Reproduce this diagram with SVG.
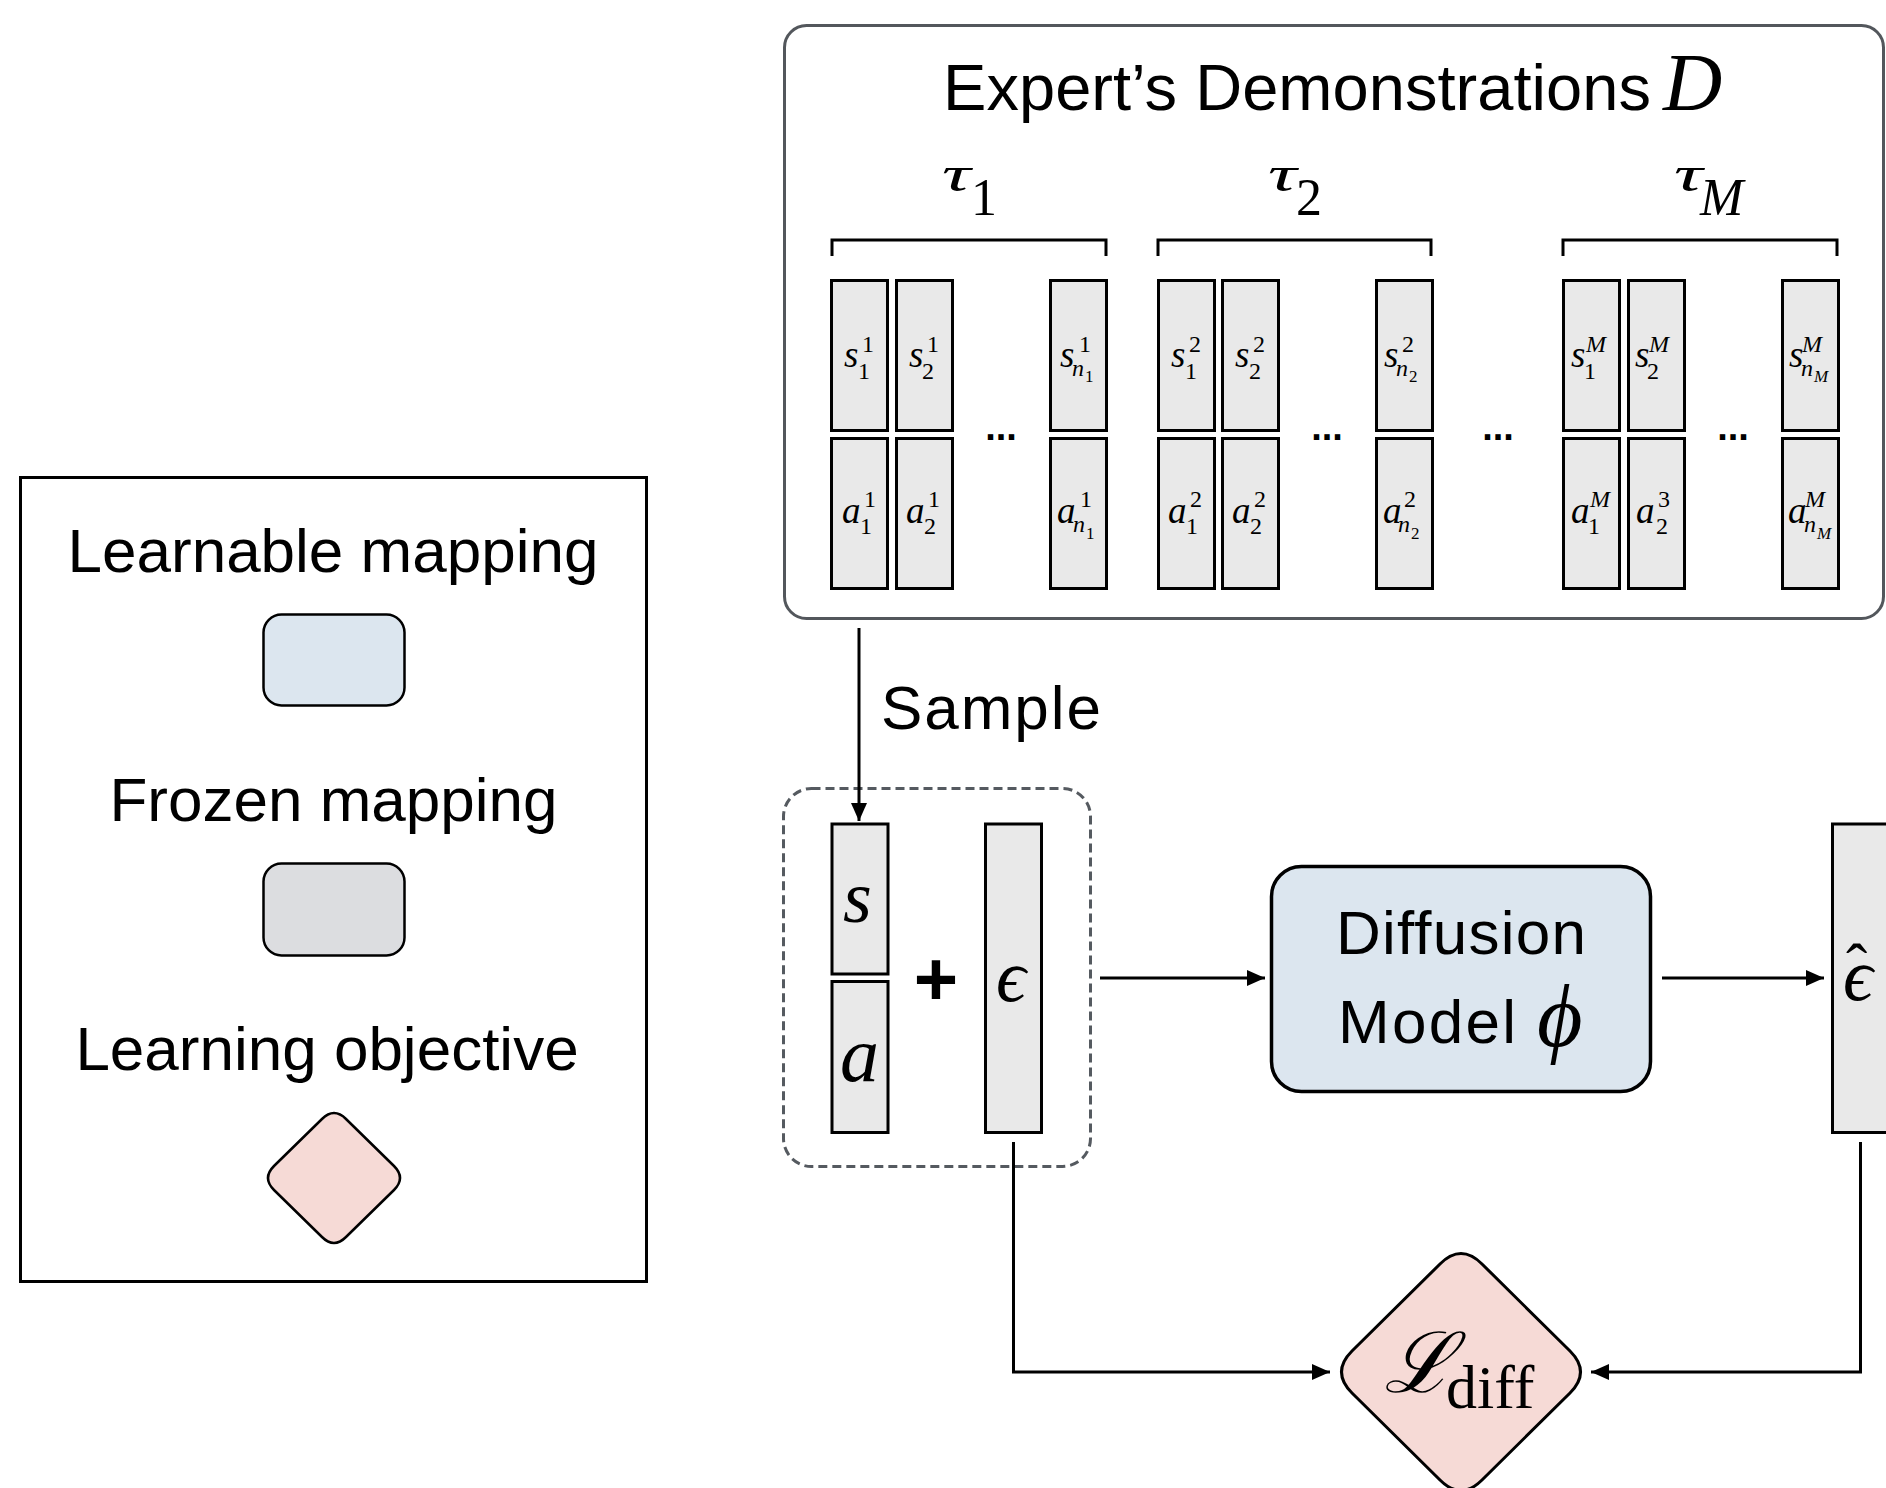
<svg xmlns="http://www.w3.org/2000/svg" width="1886" height="1488" viewBox="0 0 1886 1488">
<style>
.sans{font-family:'Liberation Sans',Arial,sans-serif;fill:#000}
.mi{font-family:'Liberation Serif','DejaVu Serif',serif;font-style:italic;fill:#000}
.mr{font-family:'Liberation Serif','DejaVu Serif',serif;fill:#000}
.b{font-size:37px}.p{font-size:24px}.q{font-size:17px}
.cell{fill:#e9e9e9;stroke:#000;stroke-width:3}
.conn{fill:none;stroke:#000;stroke-width:3}
.dots{font-family:'Liberation Sans',Arial,sans-serif;font-weight:bold;font-size:38px;text-anchor:middle}
</style>
<defs>
<marker id="arr" markerUnits="userSpaceOnUse" markerWidth="18" markerHeight="16" refX="18" refY="8" orient="auto">
<path d="M0,0 L18,8 L0,16 Z" fill="#000"/>
</marker>
</defs>
<rect width="1886" height="1488" fill="#fff"/>

<g id="legend">
<rect x="20.5" y="477.5" width="626" height="804" fill="#fff" stroke="#000" stroke-width="3"/>
<text class="sans" x="333" y="572" font-size="62" text-anchor="middle">Learnable mapping</text>
<rect x="263.5" y="614.5" width="141" height="91" rx="18" fill="#dce6ef" stroke="#000" stroke-width="2.5"/>
<text class="sans" x="333.5" y="821" font-size="62" text-anchor="middle">Frozen mapping</text>
<rect x="263.5" y="863.5" width="141" height="92" rx="18" fill="#dcdde0" stroke="#000" stroke-width="2.5"/>
<text class="sans" x="327" y="1070" font-size="62" text-anchor="middle">Learning objective</text>
<path d="M346,1119 L394,1166 Q406,1178 394,1190 L346,1237 Q334,1249 322,1237 L274,1190 Q262,1178 274,1166 L322,1119 Q334,1107 346,1119 Z" fill="#f6dad6" stroke="#000" stroke-width="2.5"/>
</g>

<g id="demonstrations">
<rect x="784.5" y="25.5" width="1099" height="593" rx="22" fill="#fff" stroke="#53575c" stroke-width="3"/>
<text class="sans" x="943" y="110" font-size="65" textLength="708" lengthAdjust="spacing">Expert’s Demonstrations</text>
<text class="mi" x="1663" y="110" font-size="82">D</text>
<text class="mi" font-size="50" transform="translate(942,191) scale(1.6,1)">τ</text>
<text class="mr" x="971" y="215" font-size="52">1</text>
<text class="mi" font-size="50" transform="translate(1268,191) scale(1.6,1)">τ</text>
<text class="mr" x="1296" y="215" font-size="52">2</text>
<text class="mi" font-size="50" transform="translate(1674,191) scale(1.6,1)">τ</text>
<text class="mi" x="1700" y="215" font-size="52">M</text>
<path class="conn" d="M832,256 V240 H1106 V256 M1158,256 V240 H1431 V256 M1563,256 V240 H1837 V256"/>
<text class="dots" x="1001" y="440">...</text>
<text class="dots" x="1327" y="440">...</text>
<text class="dots" x="1498" y="440">...</text>
<text class="dots" x="1733" y="440">...</text>
</g>

<g id="cell-s11"><rect class="cell" x="831.5" y="280.5" width="56" height="150"/>
<text><tspan class="mi b" x="844" y="367">s</tspan><tspan class="mr p" x="862" y="352">1</tspan><tspan class="mr p" x="858" y="379">1</tspan></text></g>
<g id="cell-s21"><rect class="cell" x="896.5" y="280.5" width="56" height="150"/>
<text><tspan class="mi b" x="909" y="367">s</tspan><tspan class="mr p" x="927" y="352">1</tspan><tspan class="mr p" x="922" y="379">2</tspan></text></g>
<g id="cell-sn1"><rect class="cell" x="1050.5" y="280.5" width="56" height="150"/>
<text><tspan class="mi b" x="1060" y="367">s</tspan><tspan class="mr p" x="1079" y="352">1</tspan><tspan class="mi p" x="1072" y="376">n</tspan><tspan class="mr q" x="1085" y="382">1</tspan></text></g>
<g id="cell-s12"><rect class="cell" x="1158.5" y="280.5" width="56" height="150"/>
<text><tspan class="mi b" x="1171" y="367">s</tspan><tspan class="mr p" x="1189" y="352">2</tspan><tspan class="mr p" x="1185" y="379">1</tspan></text></g>
<g id="cell-s22"><rect class="cell" x="1222.5" y="280.5" width="56" height="150"/>
<text><tspan class="mi b" x="1235" y="367">s</tspan><tspan class="mr p" x="1253" y="352">2</tspan><tspan class="mr p" x="1249" y="379">2</tspan></text></g>
<g id="cell-sn2"><rect class="cell" x="1376.5" y="280.5" width="56" height="150"/>
<text><tspan class="mi b" x="1384" y="367">s</tspan><tspan class="mr p" x="1402" y="352">2</tspan><tspan class="mi p" x="1396" y="376">n</tspan><tspan class="mr q" x="1409" y="382">2</tspan></text></g>
<g id="cell-s1M"><rect class="cell" x="1563.5" y="280.5" width="56" height="150"/>
<text><tspan class="mi b" x="1571" y="367">s</tspan><tspan class="mi p" x="1586" y="352">M</tspan><tspan class="mr p" x="1584" y="379">1</tspan></text></g>
<g id="cell-s2M"><rect class="cell" x="1628.5" y="280.5" width="56" height="150"/>
<text><tspan class="mi b" x="1635" y="367">s</tspan><tspan class="mi p" x="1649" y="352">M</tspan><tspan class="mr p" x="1647" y="379">2</tspan></text></g>
<g id="cell-snM"><rect class="cell" x="1782.5" y="280.5" width="56" height="150"/>
<text><tspan class="mi b" x="1789" y="367">s</tspan><tspan class="mi p" x="1802" y="352">M</tspan><tspan class="mi p" x="1801" y="376">n</tspan><tspan class="mi q" x="1814" y="382">M</tspan></text></g>

<g id="cell-a11"><rect class="cell" x="831.5" y="438.5" width="56" height="150"/>
<text><tspan class="mi b" x="842" y="523">a</tspan><tspan class="mr p" x="864" y="507">1</tspan><tspan class="mr p" x="860" y="534">1</tspan></text></g>
<g id="cell-a21"><rect class="cell" x="896.5" y="438.5" width="56" height="150"/>
<text><tspan class="mi b" x="906" y="523">a</tspan><tspan class="mr p" x="928" y="507">1</tspan><tspan class="mr p" x="924" y="534">2</tspan></text></g>
<g id="cell-an1"><rect class="cell" x="1050.5" y="438.5" width="56" height="150"/>
<text><tspan class="mi b" x="1057" y="523">a</tspan><tspan class="mr p" x="1080" y="507">1</tspan><tspan class="mi p" x="1073" y="532">n</tspan><tspan class="mr q" x="1086" y="539">1</tspan></text></g>
<g id="cell-a12"><rect class="cell" x="1158.5" y="438.5" width="56" height="150"/>
<text><tspan class="mi b" x="1168" y="523">a</tspan><tspan class="mr p" x="1190" y="507">2</tspan><tspan class="mr p" x="1186" y="534">1</tspan></text></g>
<g id="cell-a22"><rect class="cell" x="1222.5" y="438.5" width="56" height="150"/>
<text><tspan class="mi b" x="1232" y="523">a</tspan><tspan class="mr p" x="1254" y="507">2</tspan><tspan class="mr p" x="1250" y="534">2</tspan></text></g>
<g id="cell-an2"><rect class="cell" x="1376.5" y="438.5" width="56" height="150"/>
<text><tspan class="mi b" x="1383" y="523">a</tspan><tspan class="mr p" x="1404" y="507">2</tspan><tspan class="mi p" x="1398" y="532">n</tspan><tspan class="mr q" x="1411" y="539">2</tspan></text></g>
<g id="cell-a1M"><rect class="cell" x="1563.5" y="438.5" width="56" height="150"/>
<text><tspan class="mi b" x="1571" y="523">a</tspan><tspan class="mi p" x="1590" y="507">M</tspan><tspan class="mr p" x="1588" y="534">1</tspan></text></g>
<g id="cell-a23"><rect class="cell" x="1628.5" y="438.5" width="56" height="150"/>
<text><tspan class="mi b" x="1636" y="523">a</tspan><tspan class="mr p" x="1658" y="507">3</tspan><tspan class="mr p" x="1656" y="534">2</tspan></text></g>
<g id="cell-anM"><rect class="cell" x="1782.5" y="438.5" width="56" height="150"/>
<text><tspan class="mi b" x="1788" y="523">a</tspan><tspan class="mi p" x="1805" y="507">M</tspan><tspan class="mi p" x="1804" y="532">n</tspan><tspan class="mi q" x="1817" y="539">M</tspan></text></g>

<g id="sample-group">
<rect x="783.5" y="788.5" width="307" height="378" rx="28" fill="none" stroke="#555a60" stroke-width="3" stroke-dasharray="9 5"/>
<g id="node-s"><rect class="cell" x="832" y="824" width="56" height="150"/>
<text class="mi" x="843" y="922" font-size="74">s</text></g>
<g id="node-a"><rect class="cell" x="832" y="981.5" width="56" height="151"/>
<text class="mi" x="840" y="1081" font-size="78">a</text></g>
<text class="sans" x="936" y="1005" font-size="76" font-weight="bold" text-anchor="middle">+</text>
<g id="node-eps"><rect class="cell" x="985.5" y="824" width="56" height="308.5"/>
<text class="mi" x="996" y="1001" font-size="74">ϵ</text></g>
</g>

<g id="diffusion">
<rect x="1271.5" y="866.5" width="379" height="225" rx="30" fill="#dce6ef" stroke="#000" stroke-width="3.5"/>
<text class="sans" x="1336" y="954" font-size="62" textLength="250" lengthAdjust="spacing">Diffusion</text>
<text class="sans" x="1338" y="1043" font-size="62" textLength="178" lengthAdjust="spacing">Model</text>
<text class="mi" x="1537" y="1046" font-size="88">ϕ</text>
</g>

<g id="eps-hat">
<rect class="cell" x="1832.5" y="824" width="60" height="308.5"/>
<text><tspan class="mi" x="1843" y="1000" font-size="74">ϵ</tspan><tspan class="mr" x="1846" y="988" font-size="64">ˆ</tspan></text>
</g>

<g id="loss">
<path d="M1482,1264 L1570,1351 Q1591,1372 1570,1393 L1482,1480 Q1461,1501 1440,1480 L1352,1393 Q1331,1372 1352,1351 L1440,1264 Q1461,1243 1482,1264 Z" fill="#f6dad6" stroke="#000" stroke-width="3"/>
<text><tspan class="mi" x="1384" y="1392" font-size="84">ℒ</tspan><tspan class="mr" x="1446" y="1408" font-size="62">diff</tspan></text>
</g>

<text class="sans" x="881" y="729" font-size="62" textLength="220" lengthAdjust="spacing">Sample</text>

<g id="connectors">
<path class="conn" d="M859,628 V821" marker-end="url(#arr)"/>
<path class="conn" d="M1100,978 H1265" marker-end="url(#arr)"/>
<path class="conn" d="M1662,978 H1824" marker-end="url(#arr)"/>
<path class="conn" d="M1013.5,1142 V1372 H1330" marker-end="url(#arr)"/>
<path class="conn" d="M1860.5,1142 V1372 H1591" marker-end="url(#arr)"/>
</g>
</svg>
